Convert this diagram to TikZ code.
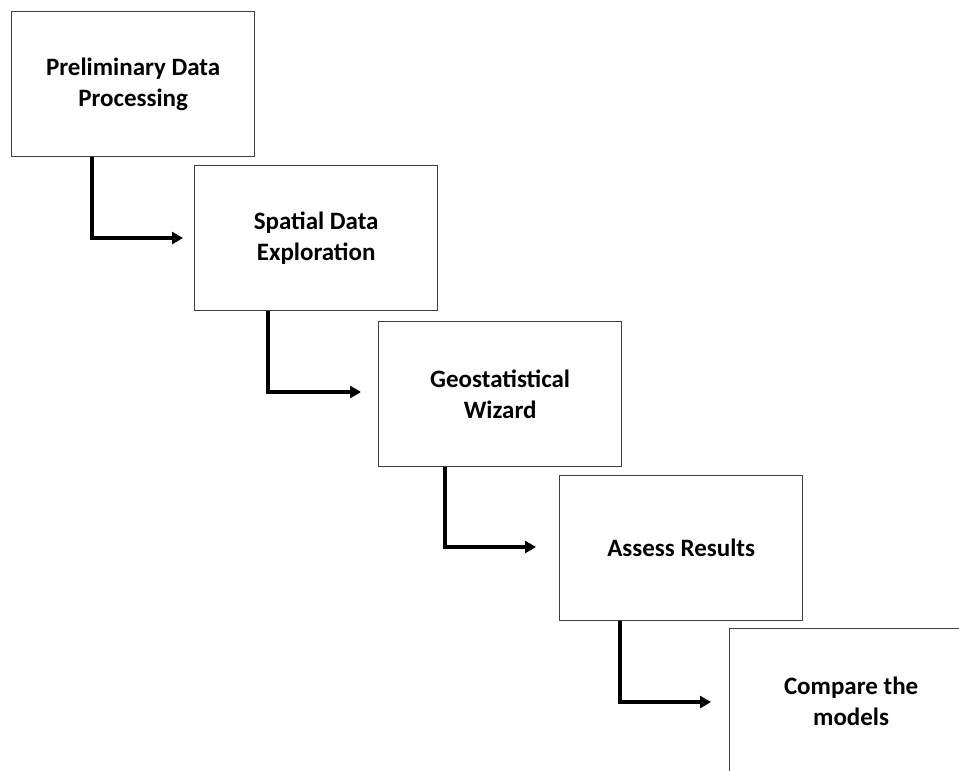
\documentclass[tikz,border=0pt]{standalone}
\usepackage{fontspec}
\setmainfont{Carlito}
\usetikzlibrary{arrows.meta,calc}
\begin{document}
\begin{tikzpicture}[x=1pt,y=-1pt,
  stepbox/.style={draw=black!75, line width=1.3pt, fill=white, minimum width=243pt, minimum height=145pt, inner sep=0pt, align=center, anchor=north west, font=\fontsize{25}{31}\selectfont\bfseries},
  flow/.style={line width=3.8pt, -{Triangle[length=11pt,width=12pt]}}]
\clip (0,0) rectangle (959,771);
\fill[white] (0,0) rectangle (959,771);
\node[stepbox] (b1) at (11,11) {Preliminary Data\\Processing};
\node[stepbox] (b2) at (194,165) {Spatial Data\\Exploration};
\node[stepbox] (b3) at (378,321) {Geostatistical\\Wizard};
\node[stepbox] (b4) at (559,475) {Assess Results};
\node[stepbox] (b5) at (729,628) {Compare the\\models};
\coordinate (c1) at (92,238);
\coordinate (c2) at (268,392);
\coordinate (c3) at (445,547);
\coordinate (c4) at (620,702);
\coordinate (t1) at ($(c1 -| b2.west)+(-11,0)$);
\coordinate (t2) at ($(c2 -| b3.west)+(-17,0)$);
\coordinate (t3) at ($(c3 -| b4.west)+(-23,0)$);
\coordinate (t4) at ($(c4 -| b5.west)+(-18,0)$);
\draw[flow] (c1 |- b1.south) -- (c1) -- (t1);
\draw[flow] (c2 |- b2.south) -- (c2) -- (t2);
\draw[flow] (c3 |- b3.south) -- (c3) -- (t3);
\draw[flow] (c4 |- b4.south) -- (c4) -- (t4);
\end{tikzpicture}
\end{document}
